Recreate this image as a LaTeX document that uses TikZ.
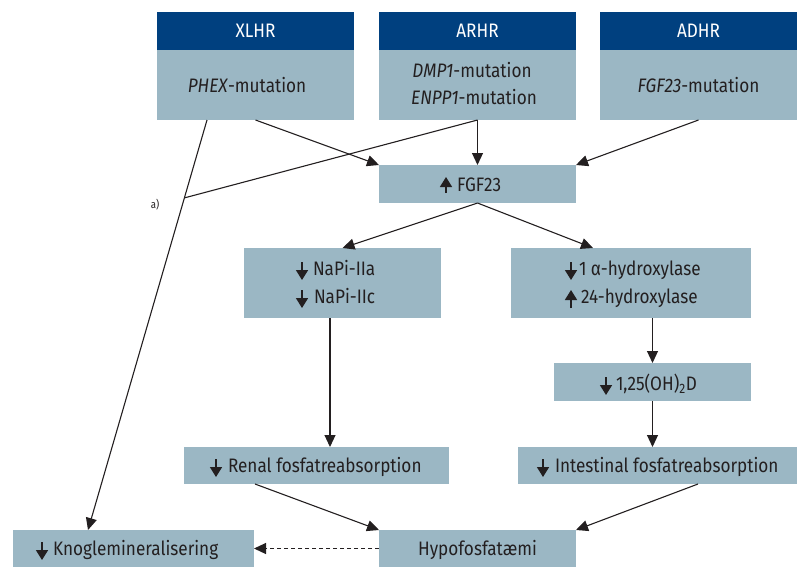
\documentclass[tikz,border=0pt]{standalone}
\usepackage{fontspec}
\setmainfont{Fira Sans}[FakeStretch=0.88]
\usetikzlibrary{arrows.meta,calc}
\definecolor{hdr}{HTML}{00407F}
\definecolor{bx}{HTML}{9BB7C4}
\definecolor{ink}{HTML}{231F20}
\begin{document}
\begin{tikzpicture}[x=1pt,y=-1pt,
  every node/.style={inner sep=0pt,outer sep=0pt,text=ink,font=\fontsize{19.5}{22}\selectfont},
  hdrbox/.style={fill=hdr,minimum width=197pt,minimum height=38pt,text=white},
  box/.style={fill=bx},
  txt/.style={anchor=base west},
  ctxt/.style={anchor=base},
  conn/.style={draw=ink,line width=1.1pt,-{Triangle[width=11pt,length=12pt]}},
  plain/.style={draw=ink,line width=1.1pt},
  marr/.style={draw=ink,line width=1.6pt,-{Triangle[width=12pt,length=10pt]}}]
\useasboundingbox (0,0) rectangle (803,568);
% top boxes
\node[hdrbox] (xlh) at (255.5,31) {XLHR};
\node[box,minimum width=197pt,minimum height=70pt] (xlb) at (255.5,85) {};
\node[hdrbox] (arh) at (477.5,31) {ARHR};
\node[box,minimum width=197pt,minimum height=70pt] (arb) at (477.5,85) {};
\node[hdrbox] (adh) at (698.5,31) {ADHR};
\node[box,minimum width=197pt,minimum height=70pt] (adb) at (698.5,85) {};
\node[ctxt] (t1) at (247,92) {\textit{PHEX}-mutation};
\node[ctxt] (t2) at (472,77) {\textit{DMP1}-mutation};
\node[ctxt] (t3) at (474,104) {\textit{ENPP1}-mutation};
\node[ctxt] (t4) at (698.5,92) {\textit{FGF23}-mutation};
% middle boxes
\node[box,minimum width=197pt,minimum height=38pt] (fgf) at (477.5,184) {};
\node[txt] (fgft) at (457,191) {FGF23};
\node[box,minimum width=197pt,minimum height=70pt] (napi) at (342.5,283) {};
\node[txt] (na1) at (313,275) {NaPi-IIa};
\node[txt] (na2) at (314,303) {NaPi-IIc};
\node[box,minimum width=240pt,minimum height=70pt] (hyd) at (631,283) {};
\node[txt] (hy1) at (579,275) {1 α-hydroxylase};
\node[txt] (hy2) at (581,303) {24-hydroxylase};
\node[box,minimum width=197pt,minimum height=38pt] (ot) at (652.5,382) {};
\node[txt] (ott) at (616,390) {1,25(OH)\textsubscript{2}D};
\node[box,minimum width=265pt,minimum height=37pt] (ren) at (316.5,465.5) {};
\node[txt] (rent) at (228,472) {Renal fosfatreabsorption};
\node[box,minimum width=279pt,minimum height=37pt] (int) at (657.5,465.5) {};
\node[txt] (intt) at (555,472) {Intestinal fosfatreabsorption};
\node[box,minimum width=241pt,minimum height=37pt] (kno) at (133.5,548.5) {};
\node[txt] (knot) at (53,555) {Knoglemineralisering};
\node[box,minimum width=197pt,minimum height=37pt] (hyp) at (477.5,548.5) {};
\node[ctxt] (hypt) at (477.5,555) {Hypofosfatæmi};
\node[font=\fontsize{11}{12}\selectfont] (alab) at (155,205) {a)};
% inline up/down arrows
\draw[marr] ([xshift=-11pt,yshift=-2pt]fgft.base west) -- ([xshift=-11pt,yshift=14pt]fgft.base west);
\draw[marr] ([xshift=-11pt,yshift=13pt]na1.base west) -- ([xshift=-11pt,yshift=-5pt]na1.base west);
\draw[marr] ([xshift=-12pt,yshift=13pt]na2.base west) -- ([xshift=-12pt,yshift=-5pt]na2.base west);
\draw[marr] ([xshift=-8pt,yshift=13pt]hy1.base west) -- ([xshift=-8pt,yshift=-5pt]hy1.base west);
\draw[marr] ([xshift=-10pt,yshift=-5pt]hy2.base west) -- ([xshift=-10pt,yshift=13pt]hy2.base west);
\draw[marr] ([xshift=-10pt,yshift=13pt]ott.base west) -- ([xshift=-10pt,yshift=-5pt]ott.base west);
\draw[marr] ([xshift=-12pt,yshift=13pt]rent.base west) -- ([xshift=-12pt,yshift=-5pt]rent.base west);
\draw[marr] ([xshift=-12pt,yshift=13pt]intt.base west) -- ([xshift=-12pt,yshift=-5pt]intt.base west);
\draw[marr] ([xshift=-11pt,yshift=13pt]knot.base west) -- ([xshift=-11pt,yshift=-5pt]knot.base west);
% connectors
\coordinate (xs) at ([xshift=-48.5pt]xlb.south);
\coordinate (kn) at ([xshift=-45.5pt]kno.north);
\coordinate (jn) at ($(xs)!0.19!(kn)$);
\draw[conn] (xs) -- (kn);
\draw[plain] (arb.south) -- (jn);
\draw[conn] (xlb.south) -- (fgf.north west);
\draw[conn] (arb.south) -- (fgf.north);
\draw[conn] (adb.south) -- (fgf.north east);
\draw[conn] (fgf.south) -- (napi.north);
\draw[conn] (fgf.south) -- ([xshift=-38pt]hyd.north);
\draw[conn] (hyd.south -| ot.north) -- (ot.north);
\draw[conn] (ot.south) -- (ot.south |- int.north);
\coordinate (ns) at ([xshift=-12.5pt]napi.south);
\draw[conn] (ns) -- (ns |- ren.north);
\draw[conn] ([xshift=-61.5pt]ren.south) -- (hyp.north west);
\draw[conn] ([xshift=40.5pt]int.south) -- (hyp.north east);
\draw[conn,dash pattern=on 4pt off 3pt] (hyp.west) -- (kno.east);
\end{tikzpicture}
\end{document}
